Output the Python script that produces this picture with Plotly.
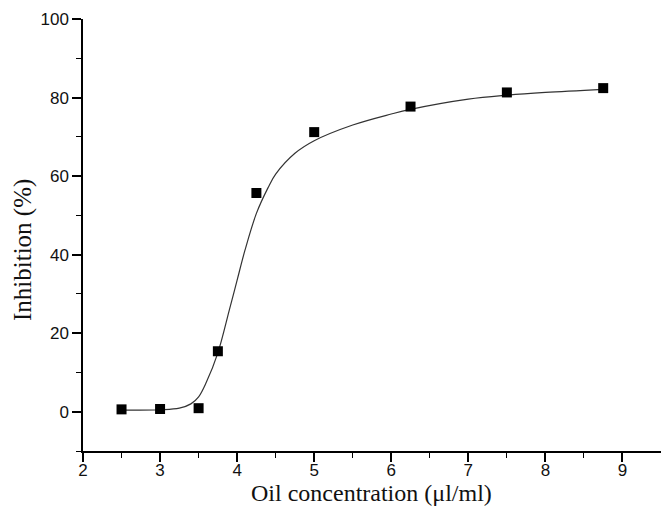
import plotly.graph_objects as go

# measured data points
conc = [2.5, 3.0, 3.5, 3.75, 4.25, 5.0, 6.25, 7.5, 8.75]
inhibition = [0.6, 0.7, 0.9, 15.4, 55.7, 71.2, 77.7, 81.3, 82.4]

# fitted curve
fit_x = [2.5, 3.0, 3.25, 3.4, 3.5, 3.6, 3.75, 3.9, 4.0, 4.1, 4.25, 4.4, 4.5, 4.75, 5.0, 5.5, 6.0, 6.25, 7.0, 7.5, 8.0, 8.75]
fit_y = [0.4, 0.5, 0.9, 2.0, 3.8, 7.5, 15.0, 26.0, 33.5, 41.0, 50.5, 57.0, 60.5, 65.8, 69.0, 73.0, 75.8, 77.0, 79.6, 80.6, 81.3, 82.1]

x_ticks = [2, 3, 4, 5, 6, 7, 8, 9]
y_ticks = [0, 20, 40, 60, 80, 100]

x_title = "Oil concentration (μl/ml)"
y_title = "Inhibition (%)"

fig = go.Figure()
fig.add_trace(go.Scatter(x=fit_x, y=fit_y, mode="lines",
                         line=dict(color="#333333", width=1.2, shape="spline", smoothing=1.0),
                         hoverinfo="skip", showlegend=False))
fig.add_trace(go.Scatter(x=conc, y=inhibition, mode="markers",
                         marker=dict(symbol="square", size=10, color="black"),
                         showlegend=False))

tickfont = dict(family="Liberation Sans, Arial, sans-serif", size=17, color="#111")
titlefont = dict(family="Liberation Serif, Times New Roman, serif", size=25, color="#111")
xtitlefont = dict(family="Liberation Serif, Times New Roman, serif", size=24, color="#111")

fig.update_layout(
    width=661, height=509,
    margin=dict(l=83, r=0, t=19, b=58),
    paper_bgcolor="white", plot_bgcolor="white",
    xaxis=dict(range=[2, 9.5], tickvals=x_ticks, ticks="outside", ticklen=9, tickwidth=1.5,
               tickcolor="black", showline=True, linecolor="black", linewidth=1.5,
               showgrid=False, zeroline=False, tickfont=tickfont, automargin=False,
               ticklabelstandoff=-6,
               minor=dict(dtick=0.5, tick0=2, ticks="outside", ticklen=5, tickwidth=1.2, tickcolor="black", showgrid=False)),
    yaxis=dict(range=[-10, 100], tickvals=y_ticks, ticks="outside", ticklen=9, tickwidth=1.5,
               tickcolor="black", showline=True, linecolor="black", linewidth=1.5,
               showgrid=False, zeroline=False, tickfont=tickfont, automargin=False,
               minor=dict(dtick=10, tick0=0, ticks="outside", ticklen=5, tickwidth=1.2, tickcolor="black", showgrid=False)),
    annotations=[
        dict(text=x_title, xref="paper", yref="paper", x=0.499, y=-0.0975,
             xanchor="center", yanchor="middle", showarrow=False, font=xtitlefont),
        dict(text=y_title, xref="paper", yref="paper", x=-0.104, y=0.465, textangle=-90,
             xanchor="center", yanchor="middle", showarrow=False, font=titlefont),
    ],
)

fig.write_html("out.html", config={"displayModeBar": False},
               post_script="document.body.style.margin='0';document.body.style.overflow='hidden';")
